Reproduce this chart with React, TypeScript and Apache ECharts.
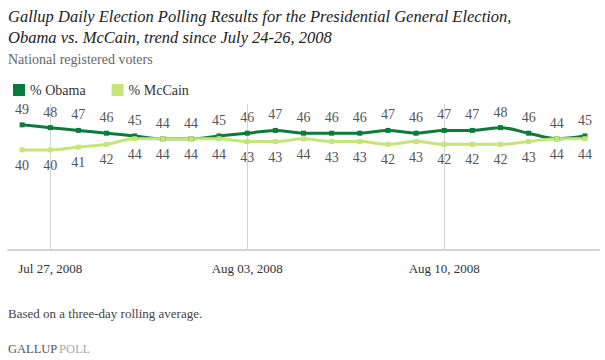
import React, { useEffect, useRef } from "react";
import * as echarts from "echarts";

const dates = [
  "Jul 26, 2008", "Jul 27, 2008", "Jul 28, 2008", "Jul 29, 2008", "Jul 30, 2008", "Jul 31, 2008",
  "Aug 01, 2008", "Aug 02, 2008", "Aug 03, 2008", "Aug 04, 2008", "Aug 05, 2008", "Aug 06, 2008",
  "Aug 07, 2008", "Aug 08, 2008", "Aug 09, 2008", "Aug 10, 2008", "Aug 11, 2008", "Aug 12, 2008",
  "Aug 13, 2008", "Aug 14, 2008", "Aug 15, 2008",
];
const obama = [49, 48, 47, 46, 45, 44, 44, 45, 46, 47, 46, 46, 46, 47, 46, 47, 47, 48, 46, 44, 45];
const mccain = [40, 40, 41, 42, 44, 44, 44, 44, 43, 43, 44, 43, 43, 42, 43, 42, 42, 42, 43, 44, 44];
const tickDates = ["Jul 27, 2008", "Aug 03, 2008", "Aug 10, 2008"];

const titleLines = [
  "Gallup Daily Election Polling Results for the Presidential General Election,",
  "Obama vs. McCain, trend since July 24-26, 2008",
];
const subtitle = "National registered voters";
const footnote = "Based on a three-day rolling average.";

const SERIF = "Liberation Serif";
const OBAMA_COLOR = "#0b7a3b";
const MCCAIN_COLOR = "#c6e47a";

export default function App() {
  const ref = useRef<HTMLDivElement>(null);
  useEffect(() => {
    document.body.style.margin = "0";
    const chart = echarts.init(ref.current!, undefined, { renderer: "svg" });
    const showTick = (i: number) => tickDates.indexOf(dates[i]) >= 0;
    chart.setOption({
      animation: false,
      backgroundColor: "#ffffff",
      textStyle: { fontFamily: SERIF },
      graphic: [
        {
          type: "text", left: 8, top: 8,
          style: { text: titleLines[0], fontFamily: SERIF, fontStyle: "italic", fontSize: 16.5, fill: "#222" },
        },
        {
          type: "text", left: 8, top: 29,
          style: { text: titleLines[1], fontFamily: SERIF, fontStyle: "italic", fontSize: 16.5, fill: "#222" },
        },
        {
          type: "text", left: 8, top: 52,
          style: { text: subtitle, fontFamily: SERIF, fontSize: 14, fill: "#666" },
        },
        {
          type: "text", left: 8, top: 307,
          style: { text: footnote, fontFamily: SERIF, fontSize: 13, fill: "#444" },
        },
        {
          type: "text", left: 8, top: 342,
          style: { text: "GALLUP", fontFamily: SERIF, fontSize: 12.5, fill: "#555" },
        },
        {
          type: "text", left: 59, top: 342,
          style: { text: "POLL", fontFamily: SERIF, fontSize: 12.5, fill: "#aaa" },
        },
      ],
      legend: {
        left: 8, top: 78,
        icon: "rect", itemWidth: 12, itemHeight: 12, itemGap: 26, itemStyle: { borderWidth: 0 },
        textStyle: { fontFamily: SERIF, fontSize: 14, color: "#333" },
        data: ["% Obama", "% McCain"],
      },
      grid: { left: 8, right: 6, top: 104, bottom: 110 },
      xAxis: {
        type: "category",
        data: dates,
        boundaryGap: true,
        axisLine: { lineStyle: { color: "#d4d4ce", width: 2 } },
        axisTick: { show: false, alignWithLabel: true },
        axisLabel: {
          interval: (i: number) => showTick(i),
          fontFamily: SERIF, fontSize: 13, color: "#333", margin: 12,
        },
        splitLine: {
          show: true,
          alignWithLabel: true,
          interval: (i: number) => showTick(i),
          lineStyle: { color: "#d4d4d4", width: 1 },
        },
      },
      yAxis: {
        type: "value", min: 4, max: 56.5, show: false,
        splitLine: { show: false },
      },
      series: [
        {
          name: "% Obama", type: "line", data: obama, smooth: 0.35,
          symbol: "rect", symbolSize: 5, showSymbol: true,
          itemStyle: { color: OBAMA_COLOR },
          lineStyle: { color: OBAMA_COLOR, width: 3 },
          label: { show: true, position: "top", distance: 6, fontFamily: SERIF, fontSize: 14, color: "#555" },
        },
        {
          name: "% McCain", type: "line", data: mccain, smooth: 0.35,
          symbol: "rect", symbolSize: 5, showSymbol: true,
          itemStyle: { color: MCCAIN_COLOR },
          lineStyle: { color: MCCAIN_COLOR, width: 3 },
          label: { show: true, position: "bottom", distance: 6, fontFamily: SERIF, fontSize: 14, color: "#555" },
        },
      ],
    });
    return () => chart.dispose();
  }, []);
  return <div ref={ref} style={{ width: 605, height: 360 }} />;
}
